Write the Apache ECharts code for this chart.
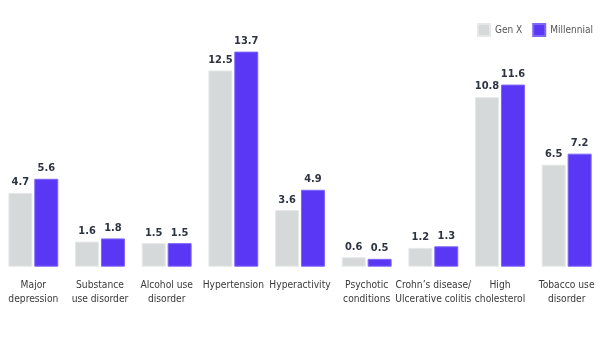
<!DOCTYPE html>
<html><head><meta charset="utf-8">
<script src="https://cdn.jsdelivr.net/npm/echarts@6/dist/echarts.min.js"></script>
<style>html,body{margin:0;padding:0;background:#fff}#c{width:600px;height:338px}</style>
</head><body><div id="c"></div>
<script>
const categories = ["Major\ndepression","Substance\nuse disorder","Alcohol use\ndisorder","Hypertension","Hyperactivity","Psychotic\nconditions","Crohn\u2019s disease/\nUlcerative colitis","High\ncholesterol","Tobacco use\ndisorder"];
const genX = [4.7,1.6,1.5,12.5,3.6,0.6,1.2,10.8,6.5];
const millennial = [5.6,1.8,1.5,13.7,4.9,0.5,1.3,11.6,7.2];
const seriesNames = ["Gen X","Millennial"];
const font = "'DejaVu Sans Condensed',sans-serif";
const chart = echarts.init(document.getElementById('c'));
const lbl = {show:true,position:'top',distance:5,fontFamily:font,fontWeight:'bold',fontSize:11,color:'#2e3440',formatter:p=>p.value.toFixed(1)};
chart.setOption({
  animation:false,
  grid:{left:-3,right:-3,top:31.2,bottom:71.3,containLabel:false},
  legend:{orient:'horizontal',left:477,top:23,width:200,padding:0,itemWidth:12,itemHeight:12,itemGap:10,itemTextGap:6,icon:'rect',
    textStyle:{fontFamily:font,fontSize:10,color:'#555'},data:seriesNames},
  xAxis:{type:'category',data:categories,axisLine:{show:false},axisTick:{show:false},
    axisLabel:{interval:0,margin:12,fontFamily:font,fontSize:10.2,lineHeight:14,color:'#3a3a3a'}},
  yAxis:{type:'value',min:0,max:15,show:false,splitLine:{show:false}},
  series:[
    {name:seriesNames[0],type:'bar',data:genX,barWidth:24,barGap:'8%',itemStyle:{color:'#d6d9d9',borderColor:'#e6e8e8',borderWidth:1},label:lbl},
    {name:seriesNames[1],type:'bar',data:millennial,barWidth:24,barGap:'8%',itemStyle:{color:'#5a37f5',borderColor:'#7e66f7',borderWidth:1},label:lbl}
  ]
});
</script></body></html>
